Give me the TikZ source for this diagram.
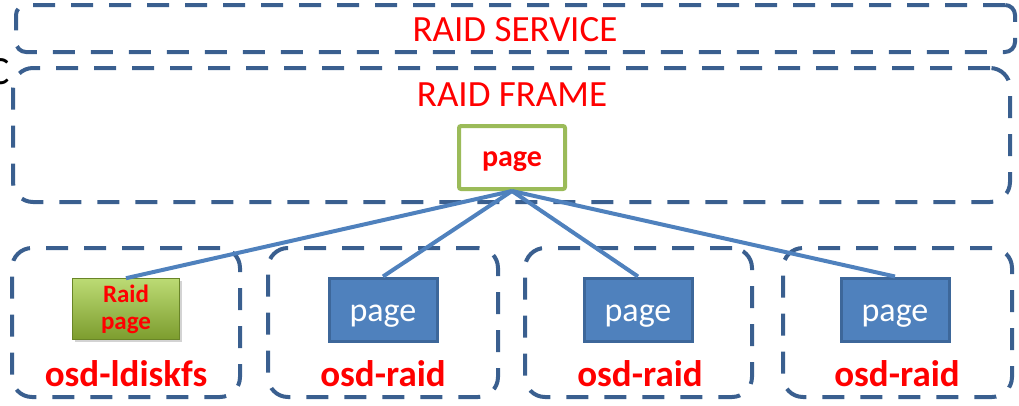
\documentclass[tikz,border=0pt]{standalone}
\usepackage{fontspec}
\setmainfont{Carlito}
\usetikzlibrary{shadows}

\definecolor{dashblue}{HTML}{3A5F8F}
\definecolor{linkblue}{HTML}{4F81BD}
\definecolor{pageedge}{HTML}{3D679A}
\definecolor{framegreen}{HTML}{9BBB59}
\definecolor{raidtop}{HTML}{BCDB74}
\definecolor{raidbot}{HTML}{7C9C2E}
\definecolor{labelred}{HTML}{FF0000}

\begin{document}
\begin{tikzpicture}[x=1pt,y=-1pt,
  group/.style={draw=dashblue, line width=4pt, dash pattern=on 22pt off 16pt,
                rounded corners=#1, inner sep=0pt},
  group/.default=20pt,
  title/.style={text=labelred, font=\fontsize{37}{40}\selectfont},
  osdlabel/.style={text=labelred, font=\bfseries\fontsize{37}{40}\selectfont},
  bluepage/.style={draw=pageedge, line width=3pt, fill=linkblue, text=white,
                   minimum width=108pt, minimum height=63pt, inner sep=0pt,
                   text height=30pt, text depth=7pt,
                   font=\fontsize{34}{36}\selectfont},
  framepage/.style={draw=framegreen, line width=4pt, fill=white, rounded corners=2pt,
                    minimum width=106pt, minimum height=63pt, inner sep=0pt,
                    text height=24pt, text depth=6pt,
                    text=labelred, font=\bfseries\fontsize{30}{32}\selectfont},
  raidpage/.style={draw=raidbot!85!black, line width=0.6pt, top color=raidtop, bottom color=raidbot,
                   minimum width=107pt, minimum height=61pt, inner sep=0pt, align=center,
                   text=labelred, font=\bfseries\fontsize{25}{27}\selectfont,
                   drop shadow={shadow xshift=2pt, shadow yshift=-2pt, opacity=0.35}},
  link/.style={draw=linkblue, line width=4pt}
]
\useasboundingbox (0,0) rectangle (1019,405);

% letter running in from the left edge
\node[anchor=west, font=\fontsize{40}{42}\selectfont, inner sep=0pt] (cut) at (-12,72) {C};

% outer containers
\node[group=10pt, minimum width=999pt, minimum height=47pt] (service) at (515.5,28.5) {};
\node[title] (servicelbl) at (515,30) {RAID SERVICE};

\node[group, minimum width=997pt, minimum height=134pt] (frame) at (511.5,135) {};
\node[title] (framelbl) at (512,95) {RAID FRAME};

\node[framepage] (top) at (512,157.5) {page};

% storage targets
\node[group, minimum width=228pt, minimum height=149pt] (g1) at (126,322.5) {};
\node[group, minimum width=230pt, minimum height=149pt] (g2) at (383,322.5) {};
\node[group, minimum width=227pt, minimum height=149pt] (g3) at (638.5,322.5) {};
\node[group, minimum width=229pt, minimum height=149pt] (g4) at (897.5,322.5) {};

\node[raidpage] (p1) at (126,309) {Raid\\page};
\node[bluepage] (p2) at (383,309.5) {page};
\node[bluepage] (p3) at (638,309.5) {page};
\node[bluepage] (p4) at (895,309.5) {page};

\node[osdlabel] (l1) at (126,374) {osd-ldiskfs};
\node[osdlabel] (l2) at (383,374) {osd-raid};
\node[osdlabel] (l3) at (640,374) {osd-raid};
\node[osdlabel] (l4) at (897,374) {osd-raid};

% fan-out from the frame page
\draw[link] (top.south) -- (p1.north);
\draw[link] (top.south) -- (p2.north);
\draw[link] (top.south) -- (p3.north);
\draw[link] (top.south) -- (p4.north);
\end{tikzpicture}
\end{document}
